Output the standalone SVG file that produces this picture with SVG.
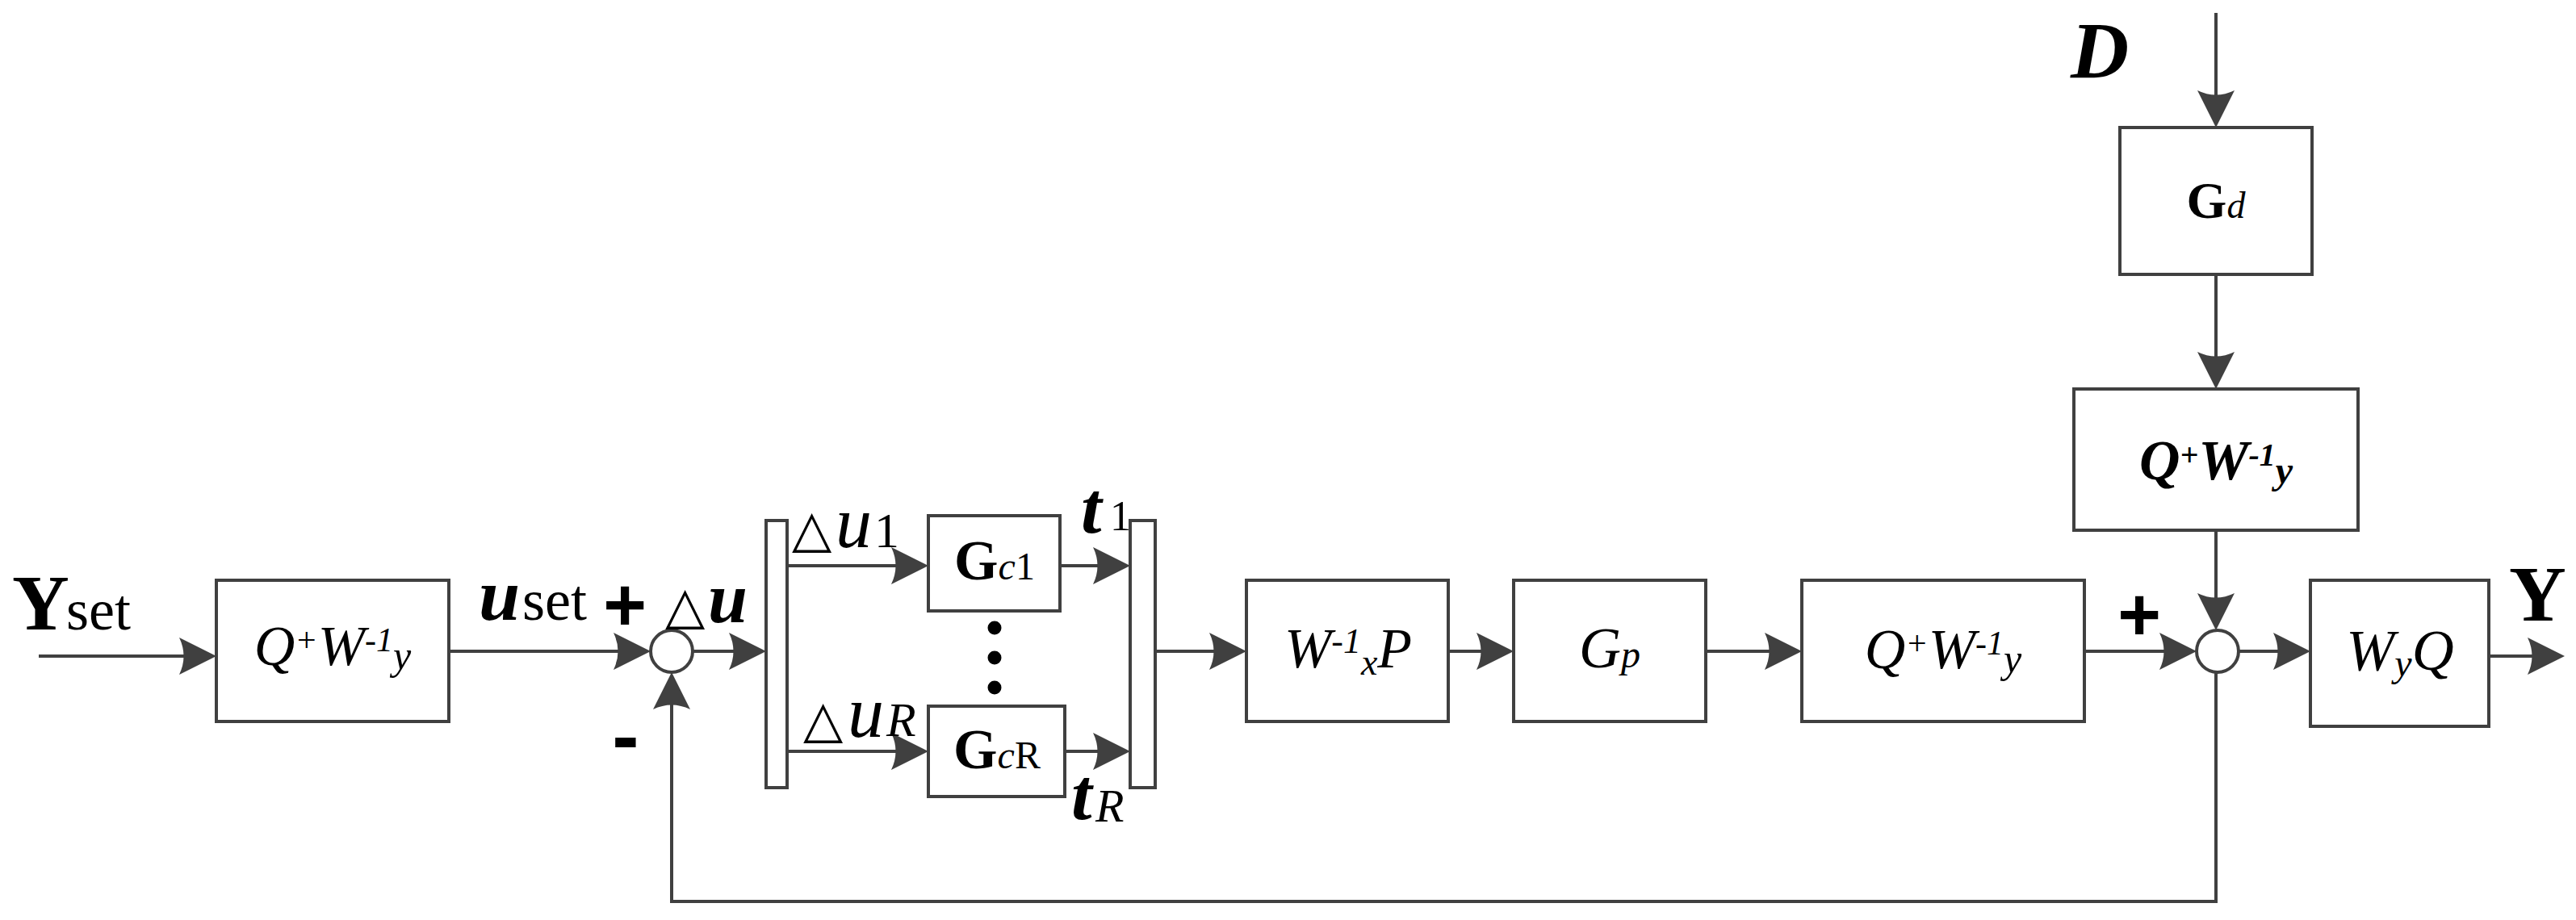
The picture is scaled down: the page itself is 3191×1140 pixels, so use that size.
<svg xmlns="http://www.w3.org/2000/svg" width="3191" height="1140" viewBox="0 0 3191 1140">
<style>
.box{fill:#fff;stroke:#404040;stroke-width:4}
.ln{fill:none;stroke:#404040;stroke-width:4;marker-end:url(#ah)}
.t{font-family:'Liberation Serif','Times New Roman',serif;fill:#000}
.i{font-style:italic}
.b{font-weight:bold}
.tri{font-family:'DejaVu Sans',sans-serif;font-size:64px;font-style:normal;font-weight:normal}
.sg{font-family:'Liberation Sans',Arial,sans-serif;font-weight:bold;fill:#000}
</style>
<defs>
<marker id="ah" markerUnits="userSpaceOnUse" viewBox="-44 -26 52 52" refX="0" refY="0" markerWidth="52" markerHeight="52" orient="auto">
<path d="M6,0 L-40,-23 Q-29,0 -40,23 Z" fill="#404040"/>
</marker>
</defs>
<rect width="3191" height="1140" fill="#fff"/>

<g id="connectors">
<path class="ln" d="M48,813 H262"/>
<path class="ln" d="M556,807 H800"/>
<path class="ln" d="M858,807 H943"/>
<path class="ln" d="M975,701 H1144"/>
<path class="ln" d="M975,931 H1144"/>
<path class="ln" d="M1313,701 H1394"/>
<path class="ln" d="M1319,931 H1394"/>
<path class="ln" d="M1431,807 H1538"/>
<path class="ln" d="M1794,807 H1869"/>
<path class="ln" d="M2113,807 H2226"/>
<path class="ln" d="M2582,807 H2715"/>
<path class="ln" d="M2773,807 H2856"/>
<path class="ln" d="M3083,813 H3171"/>
<path class="ln" d="M2745,16 V152"/>
<path class="ln" d="M2745,340 V476"/>
<path class="ln" d="M2745,657 V775"/>
<path class="ln" d="M2745,833 V1117 H832 V839"/>
</g>

<g id="box1"><rect class="box" x="268" y="719" width="288" height="175"/>
<text class="t i" x="412" y="824" text-anchor="middle" font-size="70">Q<tspan font-size="42" dy="-17">+</tspan><tspan dy="17">W</tspan><tspan font-size="42" dy="-17">-1</tspan><tspan font-size="50" dy="22">y</tspan></text></g>

<g id="sum1"><circle cx="832" cy="807" r="26" fill="#fff" stroke="#404040" stroke-width="4"/></g>

<g id="split"><rect class="box" x="949" y="645" width="26" height="331"/></g>

<g id="gc1"><rect class="box" x="1150" y="639" width="163" height="118"/>
<text class="t" x="1232" y="718" text-anchor="middle"><tspan class="b" font-size="70">G</tspan><tspan class="i" font-size="48">c</tspan><tspan font-size="48">1</tspan></text></g>

<g id="gcR"><rect class="box" x="1150" y="875" width="169" height="112"/>
<text class="t" x="1235" y="952" text-anchor="middle"><tspan class="b" font-size="70">G</tspan><tspan class="i" font-size="48">c</tspan><tspan font-size="48">R</tspan></text></g>

<g id="dots" fill="#000"><circle cx="1232" cy="778" r="8.5"/><circle cx="1232" cy="815" r="8.5"/><circle cx="1232" cy="852" r="8.5"/></g>

<g id="merge"><rect class="box" x="1400" y="645" width="31" height="331"/></g>

<g id="wxp"><rect class="box" x="1544" y="719" width="250" height="175"/>
<text class="t i" x="1670" y="827" text-anchor="middle" font-size="70">W<tspan font-size="44" dy="-18">-1</tspan><tspan font-size="46" dy="27">x</tspan><tspan dy="-9">P</tspan></text></g>

<g id="gp"><rect class="box" x="1875" y="719" width="238" height="175"/>
<text class="t i" x="1994" y="827" text-anchor="middle" font-size="72">G<tspan font-size="48">p</tspan></text></g>

<g id="box3"><rect class="box" x="2232" y="719" width="350" height="175"/>
<text class="t i" x="2407" y="828" text-anchor="middle" font-size="70">Q<tspan font-size="42" dy="-17">+</tspan><tspan dy="17">W</tspan><tspan font-size="42" dy="-17">-1</tspan><tspan font-size="50" dy="22">y</tspan></text></g>

<g id="sum2"><circle cx="2747" cy="807" r="26" fill="#fff" stroke="#404040" stroke-width="4"/></g>

<g id="wyq"><rect class="box" x="2862" y="719" width="221" height="181"/>
<text class="t i" x="2973" y="830" text-anchor="middle" font-size="72">W<tspan font-size="48" dy="8">y</tspan><tspan dy="-8">Q</tspan></text></g>

<g id="gd"><rect class="box" x="2626" y="158" width="238" height="182"/>
<text class="t" x="2745" y="270" text-anchor="middle"><tspan class="b" font-size="64">G</tspan><tspan class="i" font-size="46">d</tspan></text></g>

<g id="box4"><rect class="box" x="2569" y="482" width="352" height="175"/>
<text class="t i b" x="2745" y="594" text-anchor="middle" font-size="70">Q<tspan font-size="40" dy="-17">+</tspan><tspan dy="17">W</tspan><tspan font-size="40" dy="-17">-1</tspan><tspan font-size="48" dy="22">y</tspan></text></g>

<g id="labels">
<text class="t" y="780"><tspan x="15" class="b" font-size="98">Y</tspan><tspan x="82" font-size="72">set</tspan></text>
<text class="t" y="768"><tspan x="593" class="b i" font-size="92">u</tspan><tspan x="647" font-size="72">set</tspan></text>
<text class="sg" x="774" y="781" text-anchor="middle" font-size="92">+</text>
<text class="sg" x="775" y="946" text-anchor="middle" font-size="100">-</text>
<text class="t" y="772"><tspan x="824" class="tri">△</tspan><tspan x="877" y="771" class="b i" font-size="88">u</tspan></text>
<text class="t" y="677"><tspan x="981" class="tri">△</tspan><tspan x="1035" y="678" class="i" font-size="90">u</tspan><tspan x="1083" font-size="62">1</tspan></text>
<text class="t" y="913"><tspan x="995" class="tri">△</tspan><tspan x="1050" y="913" class="i" font-size="90">u</tspan><tspan x="1098" y="912" class="i" font-size="60">R</tspan></text>
<text class="t" y="660"><tspan x="1339" class="b i" font-size="92">t</tspan><tspan x="1375" y="657" font-size="52">1</tspan></text>
<text class="t" y="1015"><tspan x="1327" class="b i" font-size="92">t</tspan><tspan x="1357" y="1018" class="i" font-size="58">R</tspan></text>
<text class="sg" x="2650" y="793" text-anchor="middle" font-size="92">+</text>
<text class="t b" x="3108" y="769" font-size="98">Y</text>
<text class="t b i" x="2565" y="96" font-size="100">D</text>
</g>
</svg>
